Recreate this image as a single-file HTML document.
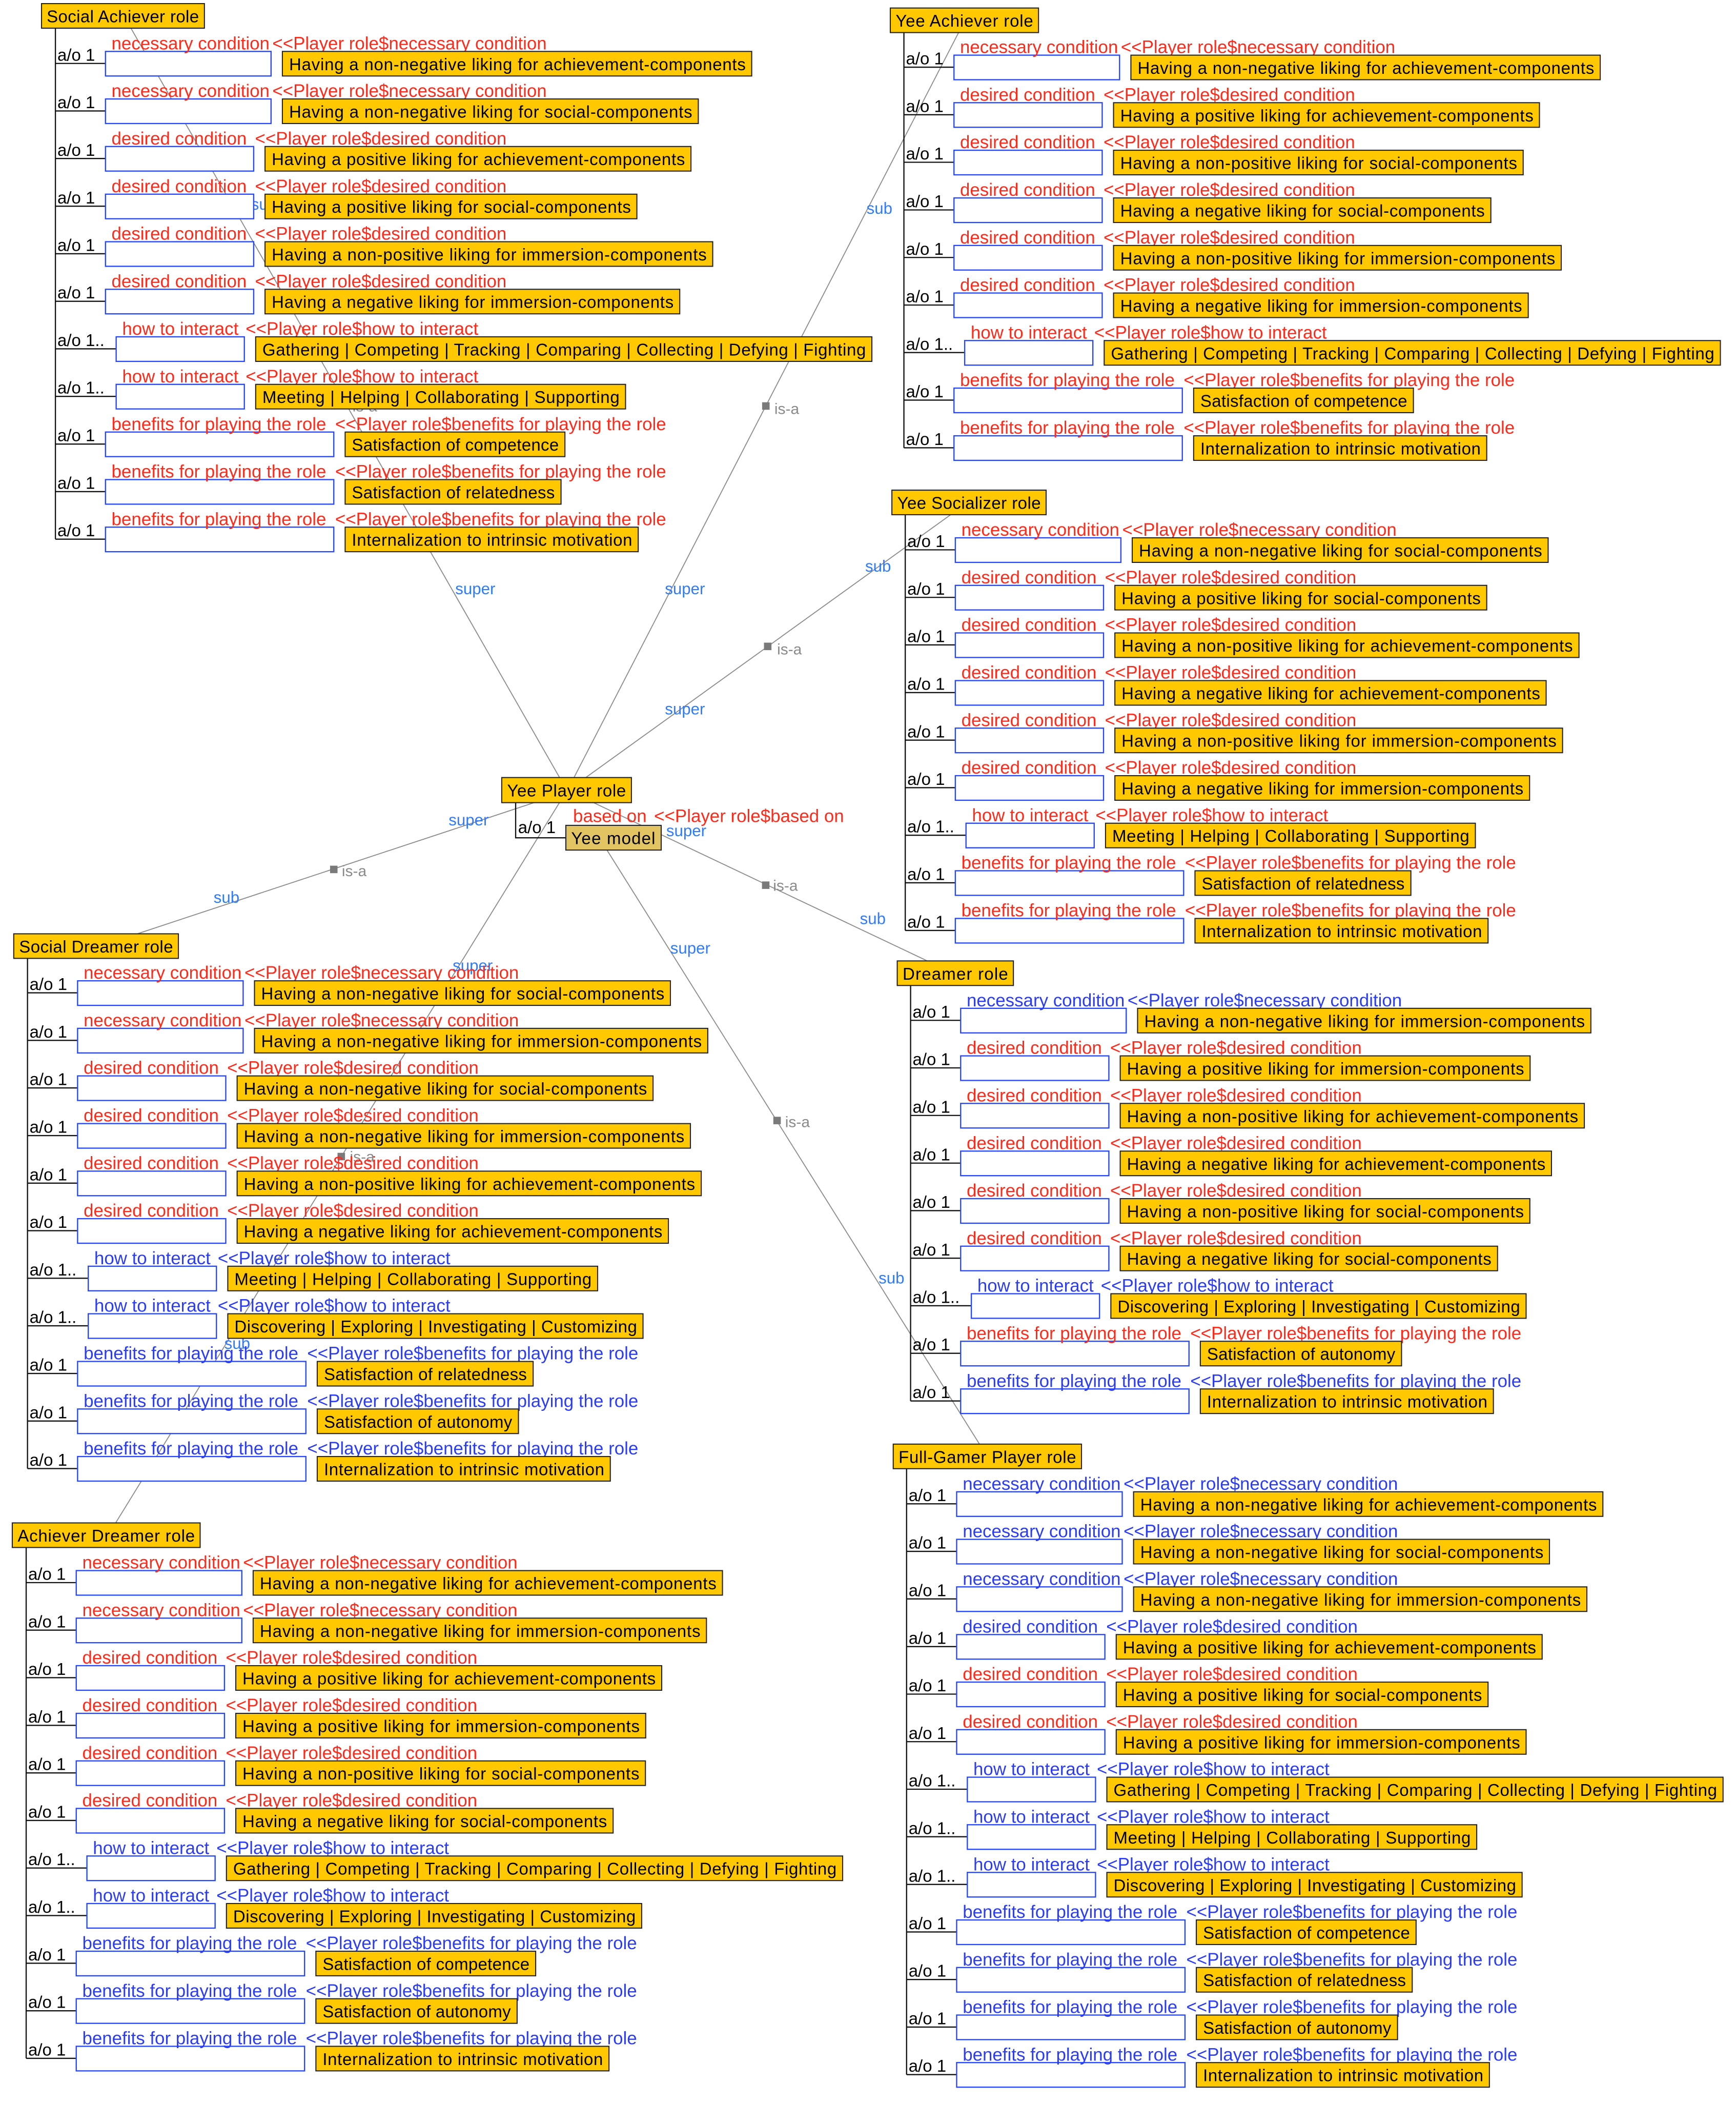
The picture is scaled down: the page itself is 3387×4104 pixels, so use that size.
<!DOCTYPE html>
<html><head><meta charset="utf-8"><style>
html,body{margin:0;padding:0;background:#fff}
svg{display:block}
text{font-family:"Liberation Sans",sans-serif;font-size:12.67px}
.r{fill:#ff2a1a;font-size:13.4px}.b{fill:#2a3cf5;font-size:13.4px}
.bb{fill:#fff;stroke:#2446ff;stroke-width:0.9}
.yb{fill:#ffc800;stroke:#222;stroke-width:0.8}
.tl{stroke:#111;stroke-width:0.9;fill:none}
.cn{stroke:#8a8a8a;stroke-width:0.7}
.sq{fill:#7a7a7a}
.ia{fill:#8a8a8a;font-size:11.5px}
.sp{fill:#2f7bff;font-size:12px}
</style></head><body>
<svg xmlns="http://www.w3.org/2000/svg" width="3387" height="4104" viewBox="0 0 1300.2 1575.4" preserveAspectRatio="none">
<g class="cn">
<line x1="419" y1="582" x2="98" y2="21"/>
<line x1="430" y1="582" x2="718" y2="24.3"/>
<line x1="439" y1="582" x2="712" y2="385.4"/>
<line x1="400" y1="601" x2="102.8" y2="699.2"/>
<line x1="419" y1="601" x2="86.6" y2="1140.3"/>
<line x1="444.6" y1="601" x2="694.5" y2="719.5"/>
<line x1="454.6" y1="636.5" x2="733.6" y2="1081.3"/>
</g>
<rect class="sq" x="256.6" y="300.2" width="5.6" height="5.6"/>
<rect class="sq" x="570.8" y="301.2" width="5.6" height="5.6"/>
<rect class="sq" x="572.2" y="481.2" width="5.6" height="5.6"/>
<rect class="sq" x="247.2" y="648.2" width="5.6" height="5.6"/>
<rect class="sq" x="252.8" y="863.2" width="5.6" height="5.6"/>
<rect class="sq" x="570.7" y="660" width="5.6" height="5.6"/>
<rect class="sq" x="579.2" y="836.2" width="5.6" height="5.6"/>
<text class="ia" x="264" y="308">is-a</text>
<text class="ia" x="580" y="310">is-a</text>
<text class="ia" x="582" y="490">is-a</text>
<text class="ia" x="256" y="656">is-a</text>
<text class="ia" x="262" y="870">is-a</text>
<text class="ia" x="579" y="667">is-a</text>
<text class="ia" x="588" y="844">is-a</text>
<text class="sp" x="341" y="445">super</text>
<text class="sp" x="188" y="157">sub</text>
<text class="sp" x="498" y="445">super</text>
<text class="sp" x="649" y="160">sub</text>
<text class="sp" x="498" y="535">super</text>
<text class="sp" x="648" y="428">sub</text>
<text class="sp" x="336" y="618">super</text>
<text class="sp" x="160" y="676">sub</text>
<text class="sp" x="339" y="727">super</text>
<text class="sp" x="168" y="1010">sub</text>
<text class="sp" x="499" y="626">super</text>
<text class="sp" x="644" y="692">sub</text>
<text class="sp" x="502" y="714">super</text>
<text class="sp" x="658" y="961">sub</text>

<path class="tl" d="M386.2 601V627.3H423.8"/>
<text x="388" y="623.8">a/o 1</text>
<text class="r" x="429.2" y="615.5">based on<tspan x="489.9">&lt;&lt;Player role$based on</tspan></text>
<rect class="yb" x="375.8" y="582.2" width="97.1" height="18.8"/>
<text x="379.8" y="596.4" textLength="89">Yee Player role</text>
<rect x="423.8" y="618" width="71.4" height="18.5" fill="#e3c463" stroke="#222" stroke-width="0.8"/>
<text x="427.8" y="632" textLength="63">Yee model</text>

<path class="tl" d="M41.5 21.1V403.7"/>
<rect class="yb" x="31.1" y="2.7" width="122" height="18.4"/><text x="35" y="16.7" textLength="114">Social Achiever role</text>
<g transform="translate(41.5,38.5)"><text x="1.5" y="6.9">a/o 1</text><path class="tl" d="M0 9H37.5"/><rect class="bb" x="37.5" width="124" height="18.4"/><text class="r" x="42" y="-1.5">necessary condition<tspan x="162.5">&lt;&lt;Player role$necessary condition</tspan></text><rect class="yb" x="170" width="351.5" height="18.4"/><text x="175" y="14" textLength="342">Having a non-negative liking for achievement-components</text></g>
<g transform="translate(41.5,74.1)"><text x="1.5" y="6.9">a/o 1</text><path class="tl" d="M0 9H37.5"/><rect class="bb" x="37.5" width="124" height="18.4"/><text class="r" x="42" y="-1.5">necessary condition<tspan x="162.5">&lt;&lt;Player role$necessary condition</tspan></text><rect class="yb" x="170" width="311.5" height="18.4"/><text x="175" y="14" textLength="302">Having a non-negative liking for social-components</text></g>
<g transform="translate(41.5,109.7)"><text x="1.5" y="6.9">a/o 1</text><path class="tl" d="M0 9H37.5"/><rect class="bb" x="37.5" width="111" height="18.4"/><text class="r" x="42" y="-1.5">desired condition<tspan x="149.5">&lt;&lt;Player role$desired condition</tspan></text><rect class="yb" x="157" width="319" height="18.4"/><text x="162" y="14" textLength="309.5">Having a positive liking for achievement-components</text></g>
<g transform="translate(41.5,145.4)"><text x="1.5" y="6.9">a/o 1</text><path class="tl" d="M0 9H37.5"/><rect class="bb" x="37.5" width="111" height="18.4"/><text class="r" x="42" y="-1.5">desired condition<tspan x="149.5">&lt;&lt;Player role$desired condition</tspan></text><rect class="yb" x="157" width="278.5" height="18.4"/><text x="162" y="14" textLength="269">Having a positive liking for social-components</text></g>
<g transform="translate(41.5,181)"><text x="1.5" y="6.9">a/o 1</text><path class="tl" d="M0 9H37.5"/><rect class="bb" x="37.5" width="111" height="18.4"/><text class="r" x="42" y="-1.5">desired condition<tspan x="149.5">&lt;&lt;Player role$desired condition</tspan></text><rect class="yb" x="157" width="335.3" height="18.4"/><text x="162" y="14" textLength="325.8">Having a non-positive liking for immersion-components</text></g>
<g transform="translate(41.5,216.6)"><text x="1.5" y="6.9">a/o 1</text><path class="tl" d="M0 9H37.5"/><rect class="bb" x="37.5" width="111" height="18.4"/><text class="r" x="42" y="-1.5">desired condition<tspan x="149.5">&lt;&lt;Player role$desired condition</tspan></text><rect class="yb" x="157" width="310.6" height="18.4"/><text x="162" y="14" textLength="301">Having a negative liking for immersion-components</text></g>
<g transform="translate(41.5,252.2)"><text x="1.5" y="6.9">a/o 1..</text><path class="tl" d="M0 9H45.5"/><rect class="bb" x="45.5" width="96" height="18.4"/><text class="r" x="50" y="-1.5">how to interact<tspan x="142.5">&lt;&lt;Player role$how to interact</tspan></text><rect class="yb" x="150" width="461.5" height="18.4"/><text x="155" y="14" textLength="452">Gathering | Competing | Tracking | Comparing | Collecting | Defying | Fighting</text></g>
<g transform="translate(41.5,287.8)"><text x="1.5" y="6.9">a/o 1..</text><path class="tl" d="M0 9H45.5"/><rect class="bb" x="45.5" width="96" height="18.4"/><text class="r" x="50" y="-1.5">how to interact<tspan x="142.5">&lt;&lt;Player role$how to interact</tspan></text><rect class="yb" x="150" width="277" height="18.4"/><text x="155" y="14" textLength="267.5">Meeting | Helping | Collaborating | Supporting</text></g>
<g transform="translate(41.5,323.5)"><text x="1.5" y="6.9">a/o 1</text><path class="tl" d="M0 9H37.5"/><rect class="bb" x="37.5" width="171" height="18.4"/><text class="r" x="42" y="-1.5">benefits for playing the role<tspan x="209.5">&lt;&lt;Player role$benefits for playing the role</tspan></text><rect class="yb" x="217" width="164.6" height="18.4"/><text x="222" y="14" textLength="155">Satisfaction of competence</text></g>
<g transform="translate(41.5,359.1)"><text x="1.5" y="6.9">a/o 1</text><path class="tl" d="M0 9H37.5"/><rect class="bb" x="37.5" width="171" height="18.4"/><text class="r" x="42" y="-1.5">benefits for playing the role<tspan x="209.5">&lt;&lt;Player role$benefits for playing the role</tspan></text><rect class="yb" x="217" width="161.7" height="18.4"/><text x="222" y="14" textLength="152">Satisfaction of relatedness</text></g>
<g transform="translate(41.5,394.7)"><text x="1.5" y="6.9">a/o 1</text><path class="tl" d="M0 9H37.5"/><rect class="bb" x="37.5" width="171" height="18.4"/><text class="r" x="42" y="-1.5">benefits for playing the role<tspan x="209.5">&lt;&lt;Player role$benefits for playing the role</tspan></text><rect class="yb" x="217" width="219.5" height="18.4"/><text x="222" y="14" textLength="210">Internalization to intrinsic motivation</text></g>

<path class="tl" d="M677 24.3V335.3"/>
<rect class="yb" x="666.8" y="6" width="111" height="18.4"/><text x="670.8" y="20" textLength="103">Yee Achiever role</text>
<g transform="translate(677,41.3)"><text x="1.5" y="6.9">a/o 1</text><path class="tl" d="M0 9H37.5"/><rect class="bb" x="37.5" width="124" height="18.4"/><text class="r" x="42" y="-1.5">necessary condition<tspan x="162.5">&lt;&lt;Player role$necessary condition</tspan></text><rect class="yb" x="170" width="351.5" height="18.4"/><text x="175" y="14" textLength="342">Having a non-negative liking for achievement-components</text></g>
<g transform="translate(677,76.9)"><text x="1.5" y="6.9">a/o 1</text><path class="tl" d="M0 9H37.5"/><rect class="bb" x="37.5" width="111" height="18.4"/><text class="r" x="42" y="-1.5">desired condition<tspan x="149.5">&lt;&lt;Player role$desired condition</tspan></text><rect class="yb" x="157" width="319" height="18.4"/><text x="162" y="14" textLength="309.5">Having a positive liking for achievement-components</text></g>
<g transform="translate(677,112.5)"><text x="1.5" y="6.9">a/o 1</text><path class="tl" d="M0 9H37.5"/><rect class="bb" x="37.5" width="111" height="18.4"/><text class="r" x="42" y="-1.5">desired condition<tspan x="149.5">&lt;&lt;Player role$desired condition</tspan></text><rect class="yb" x="157" width="306.8" height="18.4"/><text x="162" y="14" textLength="297.3">Having a non-positive liking for social-components</text></g>
<g transform="translate(677,148.2)"><text x="1.5" y="6.9">a/o 1</text><path class="tl" d="M0 9H37.5"/><rect class="bb" x="37.5" width="111" height="18.4"/><text class="r" x="42" y="-1.5">desired condition<tspan x="149.5">&lt;&lt;Player role$desired condition</tspan></text><rect class="yb" x="157" width="282.6" height="18.4"/><text x="162" y="14" textLength="273">Having a negative liking for social-components</text></g>
<g transform="translate(677,183.8)"><text x="1.5" y="6.9">a/o 1</text><path class="tl" d="M0 9H37.5"/><rect class="bb" x="37.5" width="111" height="18.4"/><text class="r" x="42" y="-1.5">desired condition<tspan x="149.5">&lt;&lt;Player role$desired condition</tspan></text><rect class="yb" x="157" width="335.3" height="18.4"/><text x="162" y="14" textLength="325.8">Having a non-positive liking for immersion-components</text></g>
<g transform="translate(677,219.4)"><text x="1.5" y="6.9">a/o 1</text><path class="tl" d="M0 9H37.5"/><rect class="bb" x="37.5" width="111" height="18.4"/><text class="r" x="42" y="-1.5">desired condition<tspan x="149.5">&lt;&lt;Player role$desired condition</tspan></text><rect class="yb" x="157" width="310.6" height="18.4"/><text x="162" y="14" textLength="301">Having a negative liking for immersion-components</text></g>
<g transform="translate(677,255)"><text x="1.5" y="6.9">a/o 1..</text><path class="tl" d="M0 9H45.5"/><rect class="bb" x="45.5" width="96" height="18.4"/><text class="r" x="50" y="-1.5">how to interact<tspan x="142.5">&lt;&lt;Player role$how to interact</tspan></text><rect class="yb" x="150" width="461.5" height="18.4"/><text x="155" y="14" textLength="452">Gathering | Competing | Tracking | Comparing | Collecting | Defying | Fighting</text></g>
<g transform="translate(677,290.6)"><text x="1.5" y="6.9">a/o 1</text><path class="tl" d="M0 9H37.5"/><rect class="bb" x="37.5" width="171" height="18.4"/><text class="r" x="42" y="-1.5">benefits for playing the role<tspan x="209.5">&lt;&lt;Player role$benefits for playing the role</tspan></text><rect class="yb" x="217" width="164.6" height="18.4"/><text x="222" y="14" textLength="155">Satisfaction of competence</text></g>
<g transform="translate(677,326.3)"><text x="1.5" y="6.9">a/o 1</text><path class="tl" d="M0 9H37.5"/><rect class="bb" x="37.5" width="171" height="18.4"/><text class="r" x="42" y="-1.5">benefits for playing the role<tspan x="209.5">&lt;&lt;Player role$benefits for playing the role</tspan></text><rect class="yb" x="217" width="219.5" height="18.4"/><text x="222" y="14" textLength="210">Internalization to intrinsic motivation</text></g>

<path class="tl" d="M678 385.3V696.7"/>
<rect class="yb" x="668" y="367" width="115.5" height="18.4"/><text x="672" y="381" textLength="107.5">Yee Socializer role</text>
<g transform="translate(678,402.7)"><text x="1.5" y="6.9">a/o 1</text><path class="tl" d="M0 9H37.5"/><rect class="bb" x="37.5" width="124" height="18.4"/><text class="r" x="42" y="-1.5">necessary condition<tspan x="162.5">&lt;&lt;Player role$necessary condition</tspan></text><rect class="yb" x="170" width="311.5" height="18.4"/><text x="175" y="14" textLength="302">Having a non-negative liking for social-components</text></g>
<g transform="translate(678,438.3)"><text x="1.5" y="6.9">a/o 1</text><path class="tl" d="M0 9H37.5"/><rect class="bb" x="37.5" width="111" height="18.4"/><text class="r" x="42" y="-1.5">desired condition<tspan x="149.5">&lt;&lt;Player role$desired condition</tspan></text><rect class="yb" x="157" width="278.5" height="18.4"/><text x="162" y="14" textLength="269">Having a positive liking for social-components</text></g>
<g transform="translate(678,473.9)"><text x="1.5" y="6.9">a/o 1</text><path class="tl" d="M0 9H37.5"/><rect class="bb" x="37.5" width="111" height="18.4"/><text class="r" x="42" y="-1.5">desired condition<tspan x="149.5">&lt;&lt;Player role$desired condition</tspan></text><rect class="yb" x="157" width="347.6" height="18.4"/><text x="162" y="14" textLength="338">Having a non-positive liking for achievement-components</text></g>
<g transform="translate(678,509.6)"><text x="1.5" y="6.9">a/o 1</text><path class="tl" d="M0 9H37.5"/><rect class="bb" x="37.5" width="111" height="18.4"/><text class="r" x="42" y="-1.5">desired condition<tspan x="149.5">&lt;&lt;Player role$desired condition</tspan></text><rect class="yb" x="157" width="323" height="18.4"/><text x="162" y="14" textLength="313.5">Having a negative liking for achievement-components</text></g>
<g transform="translate(678,545.2)"><text x="1.5" y="6.9">a/o 1</text><path class="tl" d="M0 9H37.5"/><rect class="bb" x="37.5" width="111" height="18.4"/><text class="r" x="42" y="-1.5">desired condition<tspan x="149.5">&lt;&lt;Player role$desired condition</tspan></text><rect class="yb" x="157" width="335.3" height="18.4"/><text x="162" y="14" textLength="325.8">Having a non-positive liking for immersion-components</text></g>
<g transform="translate(678,580.8)"><text x="1.5" y="6.9">a/o 1</text><path class="tl" d="M0 9H37.5"/><rect class="bb" x="37.5" width="111" height="18.4"/><text class="r" x="42" y="-1.5">desired condition<tspan x="149.5">&lt;&lt;Player role$desired condition</tspan></text><rect class="yb" x="157" width="310.6" height="18.4"/><text x="162" y="14" textLength="301">Having a negative liking for immersion-components</text></g>
<g transform="translate(678,616.4)"><text x="1.5" y="6.9">a/o 1..</text><path class="tl" d="M0 9H45.5"/><rect class="bb" x="45.5" width="96" height="18.4"/><text class="r" x="50" y="-1.5">how to interact<tspan x="142.5">&lt;&lt;Player role$how to interact</tspan></text><rect class="yb" x="150" width="277" height="18.4"/><text x="155" y="14" textLength="267.5">Meeting | Helping | Collaborating | Supporting</text></g>
<g transform="translate(678,652)"><text x="1.5" y="6.9">a/o 1</text><path class="tl" d="M0 9H37.5"/><rect class="bb" x="37.5" width="171" height="18.4"/><text class="r" x="42" y="-1.5">benefits for playing the role<tspan x="209.5">&lt;&lt;Player role$benefits for playing the role</tspan></text><rect class="yb" x="217" width="161.7" height="18.4"/><text x="222" y="14" textLength="152">Satisfaction of relatedness</text></g>
<g transform="translate(678,687.7)"><text x="1.5" y="6.9">a/o 1</text><path class="tl" d="M0 9H37.5"/><rect class="bb" x="37.5" width="171" height="18.4"/><text class="r" x="42" y="-1.5">benefits for playing the role<tspan x="209.5">&lt;&lt;Player role$benefits for playing the role</tspan></text><rect class="yb" x="217" width="219.5" height="18.4"/><text x="222" y="14" textLength="210">Internalization to intrinsic motivation</text></g>

<path class="tl" d="M682 737.7V1049"/>
<rect class="yb" x="672" y="719.5" width="87" height="18.4"/><text x="676" y="733.5" textLength="79">Dreamer role</text>
<g transform="translate(682,755)"><text x="1.5" y="6.9">a/o 1</text><path class="tl" d="M0 9H37.5"/><rect class="bb" x="37.5" width="124" height="18.4"/><text class="b" x="42" y="-1.5">necessary condition<tspan x="162.5">&lt;&lt;Player role$necessary condition</tspan></text><rect class="yb" x="170" width="339.5" height="18.4"/><text x="175" y="14" textLength="330">Having a non-negative liking for immersion-components</text></g>
<g transform="translate(682,790.6)"><text x="1.5" y="6.9">a/o 1</text><path class="tl" d="M0 9H37.5"/><rect class="bb" x="37.5" width="111" height="18.4"/><text class="r" x="42" y="-1.5">desired condition<tspan x="149.5">&lt;&lt;Player role$desired condition</tspan></text><rect class="yb" x="157" width="307" height="18.4"/><text x="162" y="14" textLength="297.5">Having a positive liking for immersion-components</text></g>
<g transform="translate(682,826.2)"><text x="1.5" y="6.9">a/o 1</text><path class="tl" d="M0 9H37.5"/><rect class="bb" x="37.5" width="111" height="18.4"/><text class="r" x="42" y="-1.5">desired condition<tspan x="149.5">&lt;&lt;Player role$desired condition</tspan></text><rect class="yb" x="157" width="347.6" height="18.4"/><text x="162" y="14" textLength="338">Having a non-positive liking for achievement-components</text></g>
<g transform="translate(682,861.9)"><text x="1.5" y="6.9">a/o 1</text><path class="tl" d="M0 9H37.5"/><rect class="bb" x="37.5" width="111" height="18.4"/><text class="r" x="42" y="-1.5">desired condition<tspan x="149.5">&lt;&lt;Player role$desired condition</tspan></text><rect class="yb" x="157" width="323" height="18.4"/><text x="162" y="14" textLength="313.5">Having a negative liking for achievement-components</text></g>
<g transform="translate(682,897.5)"><text x="1.5" y="6.9">a/o 1</text><path class="tl" d="M0 9H37.5"/><rect class="bb" x="37.5" width="111" height="18.4"/><text class="r" x="42" y="-1.5">desired condition<tspan x="149.5">&lt;&lt;Player role$desired condition</tspan></text><rect class="yb" x="157" width="306.8" height="18.4"/><text x="162" y="14" textLength="297.3">Having a non-positive liking for social-components</text></g>
<g transform="translate(682,933.1)"><text x="1.5" y="6.9">a/o 1</text><path class="tl" d="M0 9H37.5"/><rect class="bb" x="37.5" width="111" height="18.4"/><text class="r" x="42" y="-1.5">desired condition<tspan x="149.5">&lt;&lt;Player role$desired condition</tspan></text><rect class="yb" x="157" width="282.6" height="18.4"/><text x="162" y="14" textLength="273">Having a negative liking for social-components</text></g>
<g transform="translate(682,968.7)"><text x="1.5" y="6.9">a/o 1..</text><path class="tl" d="M0 9H45.5"/><rect class="bb" x="45.5" width="96" height="18.4"/><text class="b" x="50" y="-1.5">how to interact<tspan x="142.5">&lt;&lt;Player role$how to interact</tspan></text><rect class="yb" x="150" width="311" height="18.4"/><text x="155" y="14" textLength="301.5">Discovering | Exploring | Investigating | Customizing</text></g>
<g transform="translate(682,1004.3)"><text x="1.5" y="6.9">a/o 1</text><path class="tl" d="M0 9H37.5"/><rect class="bb" x="37.5" width="171" height="18.4"/><text class="r" x="42" y="-1.5">benefits for playing the role<tspan x="209.5">&lt;&lt;Player role$benefits for playing the role</tspan></text><rect class="yb" x="217" width="150.7" height="18.4"/><text x="222" y="14" textLength="141">Satisfaction of autonomy</text></g>
<g transform="translate(682,1040)"><text x="1.5" y="6.9">a/o 1</text><path class="tl" d="M0 9H37.5"/><rect class="bb" x="37.5" width="171" height="18.4"/><text class="b" x="42" y="-1.5">benefits for playing the role<tspan x="209.5">&lt;&lt;Player role$benefits for playing the role</tspan></text><rect class="yb" x="217" width="219.5" height="18.4"/><text x="222" y="14" textLength="210">Internalization to intrinsic motivation</text></g>

<path class="tl" d="M679 1099.5V1553.4"/>
<rect class="yb" x="669" y="1081.3" width="141" height="18.4"/><text x="673" y="1095.3" textLength="133">Full-Gamer Player role</text>
<g transform="translate(679,1117)"><text x="1.5" y="6.9">a/o 1</text><path class="tl" d="M0 9H37.5"/><rect class="bb" x="37.5" width="124" height="18.4"/><text class="b" x="42" y="-1.5">necessary condition<tspan x="162.5">&lt;&lt;Player role$necessary condition</tspan></text><rect class="yb" x="170" width="351.5" height="18.4"/><text x="175" y="14" textLength="342">Having a non-negative liking for achievement-components</text></g>
<g transform="translate(679,1152.6)"><text x="1.5" y="6.9">a/o 1</text><path class="tl" d="M0 9H37.5"/><rect class="bb" x="37.5" width="124" height="18.4"/><text class="b" x="42" y="-1.5">necessary condition<tspan x="162.5">&lt;&lt;Player role$necessary condition</tspan></text><rect class="yb" x="170" width="311.5" height="18.4"/><text x="175" y="14" textLength="302">Having a non-negative liking for social-components</text></g>
<g transform="translate(679,1188.2)"><text x="1.5" y="6.9">a/o 1</text><path class="tl" d="M0 9H37.5"/><rect class="bb" x="37.5" width="124" height="18.4"/><text class="b" x="42" y="-1.5">necessary condition<tspan x="162.5">&lt;&lt;Player role$necessary condition</tspan></text><rect class="yb" x="170" width="339.5" height="18.4"/><text x="175" y="14" textLength="330">Having a non-negative liking for immersion-components</text></g>
<g transform="translate(679,1223.9)"><text x="1.5" y="6.9">a/o 1</text><path class="tl" d="M0 9H37.5"/><rect class="bb" x="37.5" width="111" height="18.4"/><text class="b" x="42" y="-1.5">desired condition<tspan x="149.5">&lt;&lt;Player role$desired condition</tspan></text><rect class="yb" x="157" width="319" height="18.4"/><text x="162" y="14" textLength="309.5">Having a positive liking for achievement-components</text></g>
<g transform="translate(679,1259.5)"><text x="1.5" y="6.9">a/o 1</text><path class="tl" d="M0 9H37.5"/><rect class="bb" x="37.5" width="111" height="18.4"/><text class="r" x="42" y="-1.5">desired condition<tspan x="149.5">&lt;&lt;Player role$desired condition</tspan></text><rect class="yb" x="157" width="278.5" height="18.4"/><text x="162" y="14" textLength="269">Having a positive liking for social-components</text></g>
<g transform="translate(679,1295.1)"><text x="1.5" y="6.9">a/o 1</text><path class="tl" d="M0 9H37.5"/><rect class="bb" x="37.5" width="111" height="18.4"/><text class="r" x="42" y="-1.5">desired condition<tspan x="149.5">&lt;&lt;Player role$desired condition</tspan></text><rect class="yb" x="157" width="307" height="18.4"/><text x="162" y="14" textLength="297.5">Having a positive liking for immersion-components</text></g>
<g transform="translate(679,1330.7)"><text x="1.5" y="6.9">a/o 1..</text><path class="tl" d="M0 9H45.5"/><rect class="bb" x="45.5" width="96" height="18.4"/><text class="b" x="50" y="-1.5">how to interact<tspan x="142.5">&lt;&lt;Player role$how to interact</tspan></text><rect class="yb" x="150" width="461.5" height="18.4"/><text x="155" y="14" textLength="452">Gathering | Competing | Tracking | Comparing | Collecting | Defying | Fighting</text></g>
<g transform="translate(679,1366.3)"><text x="1.5" y="6.9">a/o 1..</text><path class="tl" d="M0 9H45.5"/><rect class="bb" x="45.5" width="96" height="18.4"/><text class="b" x="50" y="-1.5">how to interact<tspan x="142.5">&lt;&lt;Player role$how to interact</tspan></text><rect class="yb" x="150" width="277" height="18.4"/><text x="155" y="14" textLength="267.5">Meeting | Helping | Collaborating | Supporting</text></g>
<g transform="translate(679,1402)"><text x="1.5" y="6.9">a/o 1..</text><path class="tl" d="M0 9H45.5"/><rect class="bb" x="45.5" width="96" height="18.4"/><text class="b" x="50" y="-1.5">how to interact<tspan x="142.5">&lt;&lt;Player role$how to interact</tspan></text><rect class="yb" x="150" width="311" height="18.4"/><text x="155" y="14" textLength="301.5">Discovering | Exploring | Investigating | Customizing</text></g>
<g transform="translate(679,1437.6)"><text x="1.5" y="6.9">a/o 1</text><path class="tl" d="M0 9H37.5"/><rect class="bb" x="37.5" width="171" height="18.4"/><text class="b" x="42" y="-1.5">benefits for playing the role<tspan x="209.5">&lt;&lt;Player role$benefits for playing the role</tspan></text><rect class="yb" x="217" width="164.6" height="18.4"/><text x="222" y="14" textLength="155">Satisfaction of competence</text></g>
<g transform="translate(679,1473.2)"><text x="1.5" y="6.9">a/o 1</text><path class="tl" d="M0 9H37.5"/><rect class="bb" x="37.5" width="171" height="18.4"/><text class="b" x="42" y="-1.5">benefits for playing the role<tspan x="209.5">&lt;&lt;Player role$benefits for playing the role</tspan></text><rect class="yb" x="217" width="161.7" height="18.4"/><text x="222" y="14" textLength="152">Satisfaction of relatedness</text></g>
<g transform="translate(679,1508.8)"><text x="1.5" y="6.9">a/o 1</text><path class="tl" d="M0 9H37.5"/><rect class="bb" x="37.5" width="171" height="18.4"/><text class="b" x="42" y="-1.5">benefits for playing the role<tspan x="209.5">&lt;&lt;Player role$benefits for playing the role</tspan></text><rect class="yb" x="217" width="150.7" height="18.4"/><text x="222" y="14" textLength="141">Satisfaction of autonomy</text></g>
<g transform="translate(679,1544.4)"><text x="1.5" y="6.9">a/o 1</text><path class="tl" d="M0 9H37.5"/><rect class="bb" x="37.5" width="171" height="18.4"/><text class="b" x="42" y="-1.5">benefits for playing the role<tspan x="209.5">&lt;&lt;Player role$benefits for playing the role</tspan></text><rect class="yb" x="217" width="219.5" height="18.4"/><text x="222" y="14" textLength="210">Internalization to intrinsic motivation</text></g>

<path class="tl" d="M20.6 717.5V1099.6"/>
<rect class="yb" x="10.3" y="699.2" width="123.3" height="18.4"/><text x="14.3" y="713.2" textLength="115.3">Social Dreamer role</text>
<g transform="translate(20.6,734.4)"><text x="1.5" y="6.9">a/o 1</text><path class="tl" d="M0 9H37.5"/><rect class="bb" x="37.5" width="124" height="18.4"/><text class="r" x="42" y="-1.5">necessary condition<tspan x="162.5">&lt;&lt;Player role$necessary condition</tspan></text><rect class="yb" x="170" width="311.5" height="18.4"/><text x="175" y="14" textLength="302">Having a non-negative liking for social-components</text></g>
<g transform="translate(20.6,770)"><text x="1.5" y="6.9">a/o 1</text><path class="tl" d="M0 9H37.5"/><rect class="bb" x="37.5" width="124" height="18.4"/><text class="r" x="42" y="-1.5">necessary condition<tspan x="162.5">&lt;&lt;Player role$necessary condition</tspan></text><rect class="yb" x="170" width="339.5" height="18.4"/><text x="175" y="14" textLength="330">Having a non-negative liking for immersion-components</text></g>
<g transform="translate(20.6,805.6)"><text x="1.5" y="6.9">a/o 1</text><path class="tl" d="M0 9H37.5"/><rect class="bb" x="37.5" width="111" height="18.4"/><text class="r" x="42" y="-1.5">desired condition<tspan x="149.5">&lt;&lt;Player role$desired condition</tspan></text><rect class="yb" x="157" width="311.5" height="18.4"/><text x="162" y="14" textLength="302">Having a non-negative liking for social-components</text></g>
<g transform="translate(20.6,841.3)"><text x="1.5" y="6.9">a/o 1</text><path class="tl" d="M0 9H37.5"/><rect class="bb" x="37.5" width="111" height="18.4"/><text class="r" x="42" y="-1.5">desired condition<tspan x="149.5">&lt;&lt;Player role$desired condition</tspan></text><rect class="yb" x="157" width="339.5" height="18.4"/><text x="162" y="14" textLength="330">Having a non-negative liking for immersion-components</text></g>
<g transform="translate(20.6,876.9)"><text x="1.5" y="6.9">a/o 1</text><path class="tl" d="M0 9H37.5"/><rect class="bb" x="37.5" width="111" height="18.4"/><text class="r" x="42" y="-1.5">desired condition<tspan x="149.5">&lt;&lt;Player role$desired condition</tspan></text><rect class="yb" x="157" width="347.6" height="18.4"/><text x="162" y="14" textLength="338">Having a non-positive liking for achievement-components</text></g>
<g transform="translate(20.6,912.5)"><text x="1.5" y="6.9">a/o 1</text><path class="tl" d="M0 9H37.5"/><rect class="bb" x="37.5" width="111" height="18.4"/><text class="r" x="42" y="-1.5">desired condition<tspan x="149.5">&lt;&lt;Player role$desired condition</tspan></text><rect class="yb" x="157" width="323" height="18.4"/><text x="162" y="14" textLength="313.5">Having a negative liking for achievement-components</text></g>
<g transform="translate(20.6,948.1)"><text x="1.5" y="6.9">a/o 1..</text><path class="tl" d="M0 9H45.5"/><rect class="bb" x="45.5" width="96" height="18.4"/><text class="b" x="50" y="-1.5">how to interact<tspan x="142.5">&lt;&lt;Player role$how to interact</tspan></text><rect class="yb" x="150" width="277" height="18.4"/><text x="155" y="14" textLength="267.5">Meeting | Helping | Collaborating | Supporting</text></g>
<g transform="translate(20.6,983.7)"><text x="1.5" y="6.9">a/o 1..</text><path class="tl" d="M0 9H45.5"/><rect class="bb" x="45.5" width="96" height="18.4"/><text class="b" x="50" y="-1.5">how to interact<tspan x="142.5">&lt;&lt;Player role$how to interact</tspan></text><rect class="yb" x="150" width="311" height="18.4"/><text x="155" y="14" textLength="301.5">Discovering | Exploring | Investigating | Customizing</text></g>
<g transform="translate(20.6,1019.4)"><text x="1.5" y="6.9">a/o 1</text><path class="tl" d="M0 9H37.5"/><rect class="bb" x="37.5" width="171" height="18.4"/><text class="b" x="42" y="-1.5">benefits for playing the role<tspan x="209.5">&lt;&lt;Player role$benefits for playing the role</tspan></text><rect class="yb" x="217" width="161.7" height="18.4"/><text x="222" y="14" textLength="152">Satisfaction of relatedness</text></g>
<g transform="translate(20.6,1055)"><text x="1.5" y="6.9">a/o 1</text><path class="tl" d="M0 9H37.5"/><rect class="bb" x="37.5" width="171" height="18.4"/><text class="b" x="42" y="-1.5">benefits for playing the role<tspan x="209.5">&lt;&lt;Player role$benefits for playing the role</tspan></text><rect class="yb" x="217" width="150.7" height="18.4"/><text x="222" y="14" textLength="141">Satisfaction of autonomy</text></g>
<g transform="translate(20.6,1090.6)"><text x="1.5" y="6.9">a/o 1</text><path class="tl" d="M0 9H37.5"/><rect class="bb" x="37.5" width="171" height="18.4"/><text class="b" x="42" y="-1.5">benefits for playing the role<tspan x="209.5">&lt;&lt;Player role$benefits for playing the role</tspan></text><rect class="yb" x="217" width="219.5" height="18.4"/><text x="222" y="14" textLength="210">Internalization to intrinsic motivation</text></g>

<path class="tl" d="M19.6 1158.6V1541.2"/>
<rect class="yb" x="9.2" y="1140.3" width="140.7" height="18.4"/><text x="13.2" y="1154.3" textLength="132.7">Achiever Dreamer role</text>
<g transform="translate(19.6,1176)"><text x="1.5" y="6.9">a/o 1</text><path class="tl" d="M0 9H37.5"/><rect class="bb" x="37.5" width="124" height="18.4"/><text class="r" x="42" y="-1.5">necessary condition<tspan x="162.5">&lt;&lt;Player role$necessary condition</tspan></text><rect class="yb" x="170" width="351.5" height="18.4"/><text x="175" y="14" textLength="342">Having a non-negative liking for achievement-components</text></g>
<g transform="translate(19.6,1211.6)"><text x="1.5" y="6.9">a/o 1</text><path class="tl" d="M0 9H37.5"/><rect class="bb" x="37.5" width="124" height="18.4"/><text class="r" x="42" y="-1.5">necessary condition<tspan x="162.5">&lt;&lt;Player role$necessary condition</tspan></text><rect class="yb" x="170" width="339.5" height="18.4"/><text x="175" y="14" textLength="330">Having a non-negative liking for immersion-components</text></g>
<g transform="translate(19.6,1247.2)"><text x="1.5" y="6.9">a/o 1</text><path class="tl" d="M0 9H37.5"/><rect class="bb" x="37.5" width="111" height="18.4"/><text class="r" x="42" y="-1.5">desired condition<tspan x="149.5">&lt;&lt;Player role$desired condition</tspan></text><rect class="yb" x="157" width="319" height="18.4"/><text x="162" y="14" textLength="309.5">Having a positive liking for achievement-components</text></g>
<g transform="translate(19.6,1282.9)"><text x="1.5" y="6.9">a/o 1</text><path class="tl" d="M0 9H37.5"/><rect class="bb" x="37.5" width="111" height="18.4"/><text class="r" x="42" y="-1.5">desired condition<tspan x="149.5">&lt;&lt;Player role$desired condition</tspan></text><rect class="yb" x="157" width="307" height="18.4"/><text x="162" y="14" textLength="297.5">Having a positive liking for immersion-components</text></g>
<g transform="translate(19.6,1318.5)"><text x="1.5" y="6.9">a/o 1</text><path class="tl" d="M0 9H37.5"/><rect class="bb" x="37.5" width="111" height="18.4"/><text class="r" x="42" y="-1.5">desired condition<tspan x="149.5">&lt;&lt;Player role$desired condition</tspan></text><rect class="yb" x="157" width="306.8" height="18.4"/><text x="162" y="14" textLength="297.3">Having a non-positive liking for social-components</text></g>
<g transform="translate(19.6,1354.1)"><text x="1.5" y="6.9">a/o 1</text><path class="tl" d="M0 9H37.5"/><rect class="bb" x="37.5" width="111" height="18.4"/><text class="r" x="42" y="-1.5">desired condition<tspan x="149.5">&lt;&lt;Player role$desired condition</tspan></text><rect class="yb" x="157" width="282.6" height="18.4"/><text x="162" y="14" textLength="273">Having a negative liking for social-components</text></g>
<g transform="translate(19.6,1389.7)"><text x="1.5" y="6.9">a/o 1..</text><path class="tl" d="M0 9H45.5"/><rect class="bb" x="45.5" width="96" height="18.4"/><text class="b" x="50" y="-1.5">how to interact<tspan x="142.5">&lt;&lt;Player role$how to interact</tspan></text><rect class="yb" x="150" width="461.5" height="18.4"/><text x="155" y="14" textLength="452">Gathering | Competing | Tracking | Comparing | Collecting | Defying | Fighting</text></g>
<g transform="translate(19.6,1425.3)"><text x="1.5" y="6.9">a/o 1..</text><path class="tl" d="M0 9H45.5"/><rect class="bb" x="45.5" width="96" height="18.4"/><text class="b" x="50" y="-1.5">how to interact<tspan x="142.5">&lt;&lt;Player role$how to interact</tspan></text><rect class="yb" x="150" width="311" height="18.4"/><text x="155" y="14" textLength="301.5">Discovering | Exploring | Investigating | Customizing</text></g>
<g transform="translate(19.6,1461)"><text x="1.5" y="6.9">a/o 1</text><path class="tl" d="M0 9H37.5"/><rect class="bb" x="37.5" width="171" height="18.4"/><text class="b" x="42" y="-1.5">benefits for playing the role<tspan x="209.5">&lt;&lt;Player role$benefits for playing the role</tspan></text><rect class="yb" x="217" width="164.6" height="18.4"/><text x="222" y="14" textLength="155">Satisfaction of competence</text></g>
<g transform="translate(19.6,1496.6)"><text x="1.5" y="6.9">a/o 1</text><path class="tl" d="M0 9H37.5"/><rect class="bb" x="37.5" width="171" height="18.4"/><text class="b" x="42" y="-1.5">benefits for playing the role<tspan x="209.5">&lt;&lt;Player role$benefits for playing the role</tspan></text><rect class="yb" x="217" width="150.7" height="18.4"/><text x="222" y="14" textLength="141">Satisfaction of autonomy</text></g>
<g transform="translate(19.6,1532.2)"><text x="1.5" y="6.9">a/o 1</text><path class="tl" d="M0 9H37.5"/><rect class="bb" x="37.5" width="171" height="18.4"/><text class="b" x="42" y="-1.5">benefits for playing the role<tspan x="209.5">&lt;&lt;Player role$benefits for playing the role</tspan></text><rect class="yb" x="217" width="219.5" height="18.4"/><text x="222" y="14" textLength="210">Internalization to intrinsic motivation</text></g>
</svg>
</body></html>
